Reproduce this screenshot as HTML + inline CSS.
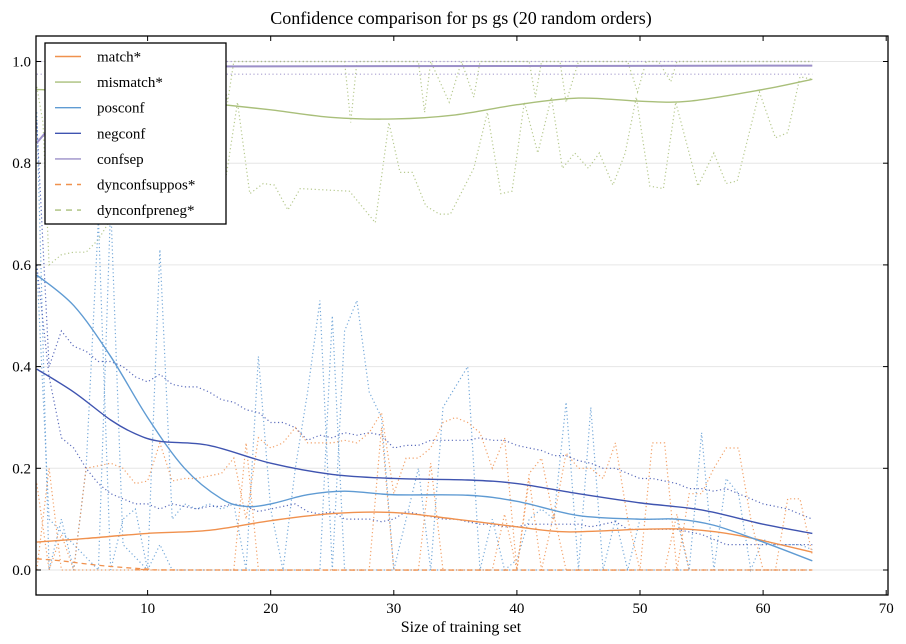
<!DOCTYPE html>
<html><head><meta charset="utf-8"><style>
html,body{margin:0;padding:0;background:#fff;}
svg{display:block;font-family:"Liberation Serif","DejaVu Serif",serif;}
</style></head><body>
<svg id="s" width="906" height="644" viewBox="0 0 906 644" xmlns="http://www.w3.org/2000/svg">
<rect width="906" height="644" fill="#fff"/>
<text x="461" y="24" font-size="18" text-anchor="middle">Confidence comparison for ps gs (20 random orders)</text>
<text x="461" y="632" font-size="16" text-anchor="middle">Size of training set</text>
<g id="grid" stroke="#e6e6e6" stroke-width="1"></g>
<g id="plot"></g>
<rect x="36" y="36" width="852" height="559" fill="none" stroke="#000" stroke-width="1.3"/>
<g id="ticks" font-size="15"></g>
<g id="legend">
<rect x="45" y="43" width="181" height="181" fill="#fff" stroke="#000" stroke-width="1.3"/>
</g>
</svg>
<script>
var NS="http://www.w3.org/2000/svg";
function X(x){return 24.5+x*12.31;}
function Y(y){return 570-y*508.5;}
function el(p,t,a){var e=document.createElementNS(NS,t);for(var k in a)e.setAttribute(k,a[k]);p.appendChild(e);return e;}
var grid=document.getElementById('grid'),plot=document.getElementById('plot'),ticks=document.getElementById('ticks'),leg=document.getElementById('legend');
[0,0.2,0.4,0.6,0.8,1.0].forEach(function(v){
 el(grid,'line',{x1:36,x2:888,y1:Y(v),y2:Y(v)});
 var t=el(ticks,'text',{x:31,y:Y(v)+5,'text-anchor':'end'});t.textContent=v.toFixed(1);
 el(ticks,'line',{x1:36,x2:41,y1:Y(v),y2:Y(v),stroke:'#000'});
 el(ticks,'line',{x1:883,x2:888,y1:Y(v),y2:Y(v),stroke:'#000'});
});
[10,20,30,40,50,60,70].forEach(function(v){
 var t=el(ticks,'text',{x:X(v),y:613,'text-anchor':'middle'});t.textContent=v;
 el(ticks,'line',{x1:X(v),x2:X(v),y1:595,y2:590,stroke:'#000'});
 el(ticks,'line',{x1:X(v),x2:X(v),y1:36,y2:41,stroke:'#000'});
});
function poly(d,c,w,dash,op){var s=d.map(function(p){return X(p[0]).toFixed(1)+','+Y(p[1]).toFixed(1)}).join(' ');
 var a={points:s,fill:'none',stroke:c,'stroke-width':w};if(dash)a['stroke-dasharray']=dash;if(op)a['stroke-opacity']=op;el(plot,'polyline',a);}
function smooth(d,c,w,dash){var P=d.map(function(p){return [X(p[0]),Y(p[1])]});var s='M'+P[0][0]+','+P[0][1];
 for(var i=0;i<P.length-1;i++){var p0=P[i-1]||P[i],p1=P[i],p2=P[i+1],p3=P[i+2]||P[i+1];
 s+=' C'+(p1[0]+(p2[0]-p0[0])/6)+','+(p1[1]+(p2[1]-p0[1])/6)+' '+(p2[0]-(p3[0]-p1[0])/6)+','+(p2[1]-(p3[1]-p1[1])/6)+' '+p2[0]+','+p2[1];}
 var a={d:s,fill:'none',stroke:c,'stroke-width':w};if(dash)a['stroke-dasharray']=dash;el(plot,'path',a);}
function ser(arr){var o=[];for(var i=0;i<arr.length;i++)o.push([i+1,arr[i]]);return o;}
var OR='#f0914e',GR='#a9bf7a',LB='#5f9bd3',DB='#3f54b0',PU='#9b8fc8',DOT='1.2,2.6',OP=0.85;
poly([[1,1.0],[64,1.0]],PU,1.2,DOT,OP);
poly([[1,0.975],[64,0.975]],PU,1.2,DOT,OP);
poly([[1,0.95],[1.5,0.88],[2,0.6],[3,0.62],[4,0.625],[5,0.625],[6,0.65],[7,0.69],[8,1.0],[16,1.0],[16.5,0.92],[17,1.0],[26,1.0],[26.5,0.88],[27,1.0],[32,1.0],[32.5,0.9],[33,1.0],[34.5,0.92],[35.5,1.0],[36.5,0.93],[37,1.0],[41,1.0],[41.5,0.93],[42,1.0],[43.5,1.0],[44,0.92],[45,1.0],[49,1.0],[49.8,0.94],[50.5,1.0],[51.5,1.0],[52.5,0.96],[53,1.0],[64,1.0]],GR,1.2,DOT,OP);
poly([[16,0.95],[16.4,0.777],[17.3,0.92],[18.3,0.74],[19.4,0.76],[20.3,0.757],[21.4,0.708],[22.4,0.75],[26.4,0.745],[28.5,0.683],[29.6,0.88],[30.5,0.782],[31.5,0.782],[32.6,0.716],[33.7,0.70],[34.6,0.70],[36.5,0.79],[37.6,0.90],[38.7,0.74],[39.6,0.745],[40.6,0.92],[41.7,0.82],[42.8,0.93],[43.7,0.79],[44.7,0.82],[45.8,0.79],[46.7,0.82],[47.8,0.757],[48.8,0.82],[49.7,0.93],[50.8,0.755],[51.9,0.75],[52.9,0.92],[54.7,0.755],[56,0.82],[57,0.76],[57.9,0.765],[59.7,0.94],[61,0.85],[62,0.86],[63,0.97],[64,0.965]],GR,1.2,DOT,OP);
poly(ser([0.9,0.0,0.1,0.0,0.2,0.69,0.0,0.1,0.12,0.0,0.63,0.1,0.13,0.12,0.13,0.12,0.13,0.0,0.42,0.12,0.0,0.2,0.35,0.53,0.0,0.47,0.53,0.35,0.3,0.0,0.1,0.2,0.0,0.32,0.36,0.4,0.0,0.1,0.0,0.02,0.1,0.12,0.1,0.33,0.0,0.32,0.0,0.1,0.0,0.1,0.1,0.1,0.1,0.0,0.27,0.0,0.18,0.15,0.0,0.06,0.05,0.05,0.05,0.04]),LB,1.2,DOT,OP);
poly([[1,0.6],[2,0.1],[6,0.0],[7,0.72],[8,0.05],[10,0.0],[11,0.05],[12,0.0],[24,0.0],[25,0.5],[26,0.0],[64,0.0]],LB,1.2,DOT,OP);
poly(ser([0.88,0.4,0.47,0.44,0.43,0.41,0.41,0.40,0.38,0.37,0.385,0.365,0.36,0.36,0.35,0.335,0.33,0.315,0.31,0.29,0.29,0.28,0.255,0.265,0.26,0.27,0.265,0.27,0.265,0.24,0.245,0.245,0.255,0.255,0.255,0.255,0.26,0.255,0.255,0.245,0.24,0.235,0.225,0.225,0.215,0.21,0.2,0.2,0.19,0.18,0.18,0.175,0.17,0.16,0.16,0.155,0.16,0.15,0.14,0.13,0.125,0.12,0.11,0.1]),DB,1.2,DOT,OP);
poly(ser([0.6,0.38,0.26,0.24,0.2,0.17,0.15,0.14,0.13,0.13,0.12,0.13,0.125,0.12,0.125,0.125,0.13,0.125,0.115,0.12,0.125,0.13,0.115,0.11,0.115,0.1,0.1,0.1,0.095,0.1,0.115,0.11,0.105,0.1,0.1,0.095,0.09,0.09,0.085,0.085,0.09,0.09,0.09,0.09,0.09,0.085,0.09,0.095,0.08,0.08,0.08,0.08,0.08,0.075,0.07,0.06,0.05,0.05,0.05,0.05,0.05,0.05,0.05,0.05]),DB,1.2,DOT,OP);
poly(ser([0.0,0.2,0.0,0.0,0.2,0.205,0.21,0.2,0.17,0.175,0.25,0.175,0.18,0.18,0.185,0.19,0.22,0.1,0.26,0.24,0.25,0.28,0.25,0.25,0.25,0.255,0.25,0.27,0.31,0.15,0.22,0.22,0.24,0.29,0.3,0.29,0.27,0.2,0.26,0.0,0.19,0.22,0.1,0.23,0.2,0.2,0.18,0.25,0.1,0.0,0.25,0.25,0.0,0.15,0.15,0.2,0.24,0.24,0.1,0.0,0.0,0.14,0.14,0.03]),OR,1.2,DOT,OP);
poly([[1,0.17],[2,0.0],[3,0.07],[4,0.0],[17,0.0],[18,0.25],[19,0.0],[28,0.0],[29,0.28],[30,0.0],[32,0.0],[33,0.21],[34,0.0],[38,0.0],[39,0.11],[40,0.0],[41,0.18],[42,0.0],[43,0.11],[44,0.0],[52,0.0],[53,0.11],[54,0.0],[64,0.0]],OR,1.2,DOT,OP);
smooth([[1,0.022],[3,0.018],[5,0.012],[7,0.007],[10,0.002],[14,0.0],[64,0.0]],OR,1.3,'5,4');
smooth([[1,0.055],[5,0.062],[10,0.072],[15,0.078],[20,0.097],[25,0.111],[30,0.113],[35,0.1],[40,0.085],[44,0.075],[50,0.08],[54,0.08],[58,0.068],[64,0.035]],OR,1.4);
smooth([[1,0.945],[5,0.94],[10,0.93],[15,0.918],[20,0.905],[25,0.89],[30,0.887],[35,0.895],[40,0.915],[45,0.928],[50,0.922],[54,0.922],[60,0.945],[64,0.965]],GR,1.4);
smooth([[1,0.58],[4,0.52],[7,0.42],[10,0.30],[13,0.2],[16,0.14],[18,0.125],[20,0.13],[23,0.148],[26,0.155],[30,0.148],[36,0.147],[40,0.135],[45,0.107],[50,0.1],[53,0.1],[56,0.088],[60,0.055],[64,0.018]],LB,1.4);
smooth([[1,0.395],[4,0.35],[7,0.295],[9,0.268],[11,0.253],[15,0.245],[20,0.21],[25,0.188],[30,0.18],[36,0.177],[40,0.17],[45,0.15],[50,0.132],[55,0.118],[60,0.09],[64,0.072]],DB,1.4);
poly([[1,0.84],[1.7,0.86],[2.6,0.99],[64,0.992]],PU,2);
var L=[['match*',OR,''],['mismatch*',GR,''],['posconf',LB,''],['negconf',DB,''],['confsep',PU,''],['dynconfsuppos*',OR,'6,5'],['dynconfpreneg*',GR,'6,5']];
L.forEach(function(l,i){var y=56.5+i*25.6;var a={x1:55,x2:81,y1:y,y2:y,stroke:l[1],'stroke-width':1.4};if(l[2])a['stroke-dasharray']=l[2];el(leg,'line',a);
 var t=el(leg,'text',{x:97,y:y+5,'font-size':15});t.textContent=l[0];});
</script>
</body></html>
